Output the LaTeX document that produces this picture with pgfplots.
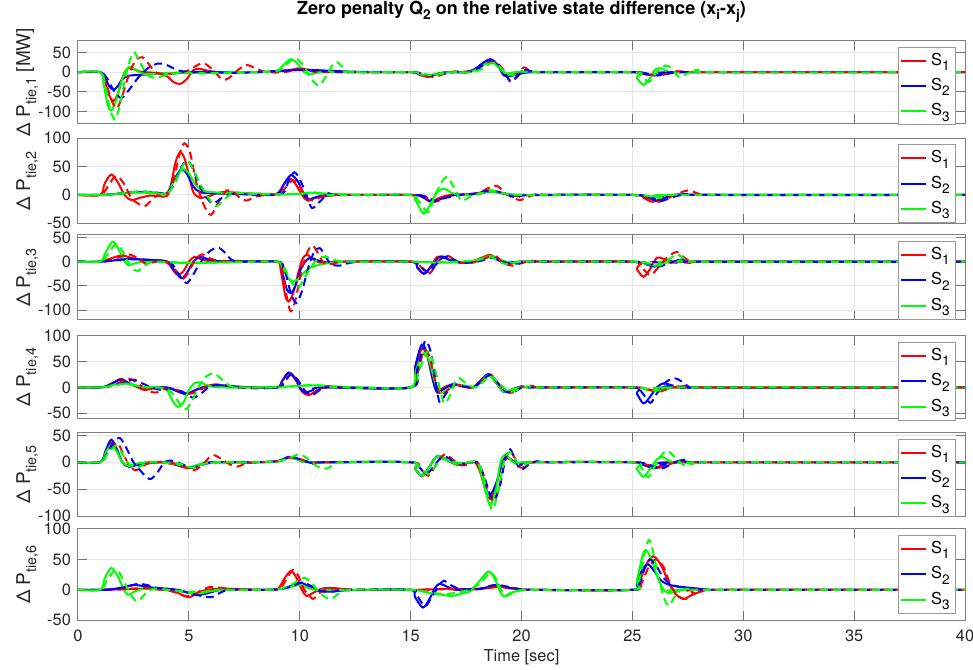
\documentclass[border=0pt]{standalone}
\usepackage{fontspec}
\setmainfont{TeX Gyre Heros}
\usepackage{pgfplots}
\pgfplotsset{compat=1.18}
\newcommand{\lsub}[1]{\raisebox{-3pt}{\fontsize{7.2}{8}\selectfont #1}}
\newcommand{\gsub}[1]{\raisebox{-2.6pt}{\fontsize{6.8}{8}\selectfont #1}}
\pgfplotsset{
  legend image code/.code={\draw[#1] (0pt,0pt) -- (12.5pt,0pt);},
  panel/.style={
    anchor=south west, scale only axis, width=443.5pt,
    xmin=0, xmax=40, xtick={0,5,...,40},
    ytick={-100,-50,0,50,100},
    grid=major, major grid style={black!10, line width=0.5pt},
    axis line style={black!50, line width=0.5pt},
    major tick style={black!55, line width=0.5pt}, major tick length=4.5pt, tick align=inside,
    tick label style={font=\fontsize{8.2}{9}\selectfont, text=black!85},
    xticklabel style={yshift=-1.5pt},
    /pgf/number format/assume math mode=true,
    xticklabels={},
    every axis y label/.style={at={(axis description cs:-0.054,0.5)}, rotate=90, anchor=base, font=\fontsize{9.5}{10}\selectfont, text=black!85},
    legend style={at={(1,1)}, anchor=north east, xshift=-4.5pt, yshift=-3pt, draw=black!40, fill=white,
      font=\fontsize{8.2}{9}\selectfont, inner sep=1pt, row sep=1pt, cells={anchor=west}},
  },
  sol/.style={line width=1pt, smooth, no markers},
  dsh/.style={line width=1pt, smooth, no markers, dash pattern=on 4pt off 2.5pt},
}
\begin{document}
\begin{tikzpicture}
\useasboundingbox (0,0) rectangle (486.5pt,334.5pt);

% ---- panel 1
\begin{axis}[panel, at={(39pt,272.85pt)}, height=41.3pt, ymin=-130, ymax=80,
  ylabel={Δ P\lsub{tie,1} [MW]},
  title={Zero penalty Q\gsub{2} on the relative state difference (x\gsub{i}-x\gsub{j})},
  title style={at={(0.5,1)}, anchor=base, yshift=7.3pt, font=\fontsize{9}{10}\selectfont\bfseries}]
\addplot[sol, red] coordinates {(0,0)(1,0)(1.2,-20)(1.4,-58)(1.6,-73)(1.8,-55)(2.0,-15)(2.2,8)(2.4,10)(2.7,3)(3.0,0)(3.5,-2)(4.0,-10)(4.3,-25)(4.6,-30)(4.9,-18)(5.2,5)(5.5,8)(5.9,3)(6.5,0)(7.5,0)(8.5,1)(9.5,5)(10.0,10)(10.5,5)(11,2)(12,0)(15,0)(15.4,-7)(15.8,-12)(16.2,-5)(16.6,0)(17.2,0)(17.8,5)(18.2,20)(18.6,30)(19.0,12)(19.3,-8)(19.7,-5)(20.2,2)(21,0)(25,0)(25.5,-5)(26.0,-8)(26.6,-3)(27.2,1)(28,0)(40,0)};
\addplot[sol, blue] coordinates {(0,0)(1,0)(1.2,-12)(1.4,-35)(1.6,-45)(1.8,-35)(2.0,-18)(2.3,-9)(2.8,-7)(3.5,-4)(4.5,-2)(5.5,0)(8,0)(9,2)(10,6)(10.8,5)(12,2)(13.5,0)(15,0)(15.4,-5)(15.8,-9)(16.2,-4)(16.7,0)(17.5,0)(17.9,8)(18.3,25)(18.6,33)(18.9,20)(19.2,-8)(19.5,-10)(20,-3)(20.8,0)(25,0)(25.5,-4)(26.0,-8)(26.5,-4)(27.2,0)(40,0)};
\addplot[sol, green] coordinates {(0,0)(1,0)(1.15,-30)(1.35,-85)(1.5,-97)(1.7,-75)(1.95,-25)(2.2,8)(2.4,13)(2.7,2)(3.0,-5)(3.5,-4)(4.0,-2)(5,-1)(6,-2)(7,0)(8.5,0)(9.0,5)(9.3,20)(9.6,33)(9.9,22)(10.2,0)(10.5,-5)(11,0)(12,0)(15,0)(15.4,-5)(15.8,-8)(16.3,-3)(16.8,0)(17.6,0)(18.0,8)(18.4,22)(18.7,25)(19.0,10)(19.3,-3)(19.7,0)(20.3,2)(21,0)(25,0)(25.2,-15)(25.5,-32)(25.8,-15)(26.0,5)(26.25,10)(26.6,2)(27.0,-2)(27.8,0)(40,0)};
\addplot[dsh, red, forget plot] coordinates {(0,0)(1,0)(1.2,-15)(1.5,-70)(1.75,-92)(2.0,-60)(2.3,-5)(2.6,30)(2.9,38)(3.2,20)(3.5,0)(3.9,-5)(4.4,-3)(5.0,5)(5.6,23)(6.0,10)(6.5,-18)(6.8,-15)(7.2,5)(7.6,18)(8.0,10)(8.5,0)(9.3,0)(10,8)(10.5,4)(11,0)(15,0)(15.5,-5)(16.0,-12)(16.5,-5)(17,2)(17.5,0)(18,8)(18.4,22)(18.8,28)(19.2,5)(19.5,-25)(19.8,-10)(20.1,12)(20.4,3)(21,0)(25,0)(25.7,-5)(26.3,-8)(26.9,2)(27.5,1)(28.5,0)(40,0)};
\addplot[dsh, blue, forget plot] coordinates {(0,0)(1,0)(1.3,-15)(1.6,-45)(1.95,-66)(2.3,-45)(2.7,-15)(3.1,8)(3.6,22)(4.0,18)(4.5,5)(5.0,0)(6,0)(7,-2)(8,0)(9,3)(10,5)(11,3)(12.5,0)(15,0)(15.5,-4)(16.0,-9)(16.5,-3)(17,0)(17.6,0)(18.1,12)(18.5,30)(18.8,28)(19.2,0)(19.5,-22)(19.8,-12)(20.1,5)(20.5,2)(21,0)(25,0)(25.6,-3)(26.2,-8)(26.8,-2)(27.5,0)(40,0)};
\addplot[dsh, green, forget plot] coordinates {(0,0)(1,0)(1.2,-25)(1.45,-95)(1.67,-120)(1.9,-80)(2.15,-10)(2.4,40)(2.55,50)(2.8,25)(3.1,-5)(3.5,-15)(3.9,-8)(4.5,-3)(5.5,-3)(6.5,-2)(8,0)(9.0,3)(9.4,20)(9.8,35)(10.2,15)(10.5,-15)(10.85,-34)(11.2,-10)(11.5,20)(11.7,25)(12.0,10)(12.4,0)(15,0)(15.5,-4)(16.0,-8)(16.5,-3)(17,0)(17.8,0)(18.2,8)(18.6,22)(18.9,20)(19.3,-3)(19.6,-8)(20.0,3)(20.5,0)(25,0)(25.4,-8)(25.75,-25)(26.1,0)(26.5,17)(26.8,8)(27.1,-12)(27.5,-3)(28.0,6)(28.5,0)(40,0)};
\legend{S\gsub{1},S\gsub{2},S\gsub{3}}
\end{axis}

% ---- panel 2
\begin{axis}[panel, at={(39pt,222.85pt)}, height=42.5pt, ymin=-50, ymax=100,
  ylabel={Δ P\lsub{tie,2}}]
\addplot[sol, red] coordinates {(0,0)(1,0)(1.2,20)(1.5,36)(1.8,22)(2.1,0)(2.4,-9)(2.8,-5)(3.3,-1)(4.0,-2)(4.2,20)(4.4,58)(4.6,75)(4.8,65)(5.0,35)(5.2,5)(5.5,-5)(5.9,-2)(6.5,5)(7.5,3)(8.5,2)(9.0,3)(9.3,20)(9.55,29)(9.8,20)(10.1,0)(10.35,-10)(10.7,-5)(11.2,-2)(12,0)(15,0)(15.5,-3)(15.9,-12)(16.3,-5)(16.8,0)(17.5,0)(18.0,3)(18.6,8)(19.2,2)(19.8,-2)(20.5,0)(25,0)(25.5,-5)(25.9,-12)(26.4,-5)(27,0)(40,0)};
\addplot[sol, blue] coordinates {(0,0)(1,0)(1.5,1)(2.0,3)(2.5,5)(3.0,5)(3.5,4)(4.0,3)(4.3,25)(4.65,45)(4.9,38)(5.2,15)(5.5,5)(6.0,3)(7,2)(8,1)(9.0,2)(9.3,20)(9.6,35)(9.9,25)(10.2,0)(10.4,-8)(10.8,-3)(11.5,0)(15,0)(15.5,-3)(16.0,-12)(16.5,-5)(17,0)(18,2)(18.6,6)(19.2,3)(20,0)(25,0)(25.6,-4)(26.1,-10)(26.6,-3)(27.2,1)(28,0)(40,0)};
\addplot[sol, green] coordinates {(0,0)(1,0)(1.5,1)(2.0,2)(2.5,4)(3.0,4)(3.5,3)(4.0,2)(4.3,22)(4.7,45)(5.0,38)(5.3,18)(5.6,8)(6.0,5)(7,3)(8,2)(9,1)(10,2)(10.5,4)(11,3)(12,1)(13,0)(15,0)(15.2,-8)(15.6,-33)(15.9,-15)(16.2,5)(16.5,11)(16.9,3)(17.5,0)(18,2)(18.5,6)(19.2,3)(20,0)(25,0)(25.6,-2)(26.2,-4)(27,0)(40,0)};
\addplot[dsh, red, forget plot] coordinates {(0,0)(1,0)(1.3,12)(1.6,30)(1.8,33)(2.1,18)(2.4,-5)(2.7,-15)(3.0,-20)(3.3,-10)(3.6,0)(4.0,2)(4.3,25)(4.6,75)(4.8,91)(5.05,75)(5.35,20)(5.7,-20)(6.0,-35)(6.3,-15)(6.7,8)(7.0,5)(7.3,-5)(7.6,-10)(8.0,-3)(8.5,0)(9.1,2)(9.4,15)(9.7,26)(10.0,15)(10.3,-5)(10.6,-10)(11.0,-3)(11.5,0)(15,0)(15.6,-2)(16.1,-12)(16.6,-4)(17.2,0)(18.0,3)(18.5,12)(18.9,16)(19.3,2)(19.9,-9)(20.3,-3)(20.8,2)(21.3,0)(25,0)(25.6,-3)(26.2,-12)(26.8,-2)(27.5,8)(28,2)(28.5,0)(40,0)};
\addplot[dsh, blue, forget plot] coordinates {(0,0)(1,0)(1.5,1)(2.2,4)(2.8,6)(3.4,5)(4.0,3)(4.35,20)(4.7,52)(4.95,60)(5.2,45)(5.5,15)(5.8,-5)(6.1,-15)(6.5,-5)(7.0,2)(8,0)(9.2,2)(9.5,25)(9.75,40)(10.0,28)(10.3,0)(10.55,-23)(10.9,-12)(11.3,3)(11.7,0)(15,0)(15.6,-2)(16.1,-10)(16.6,-5)(17.2,0)(18,3)(18.6,8)(19.2,3)(19.8,-5)(20.4,0)(25,0)(25.7,-3)(26.3,-10)(26.9,-3)(27.5,2)(28.2,0)(40,0)};
\addplot[dsh, green, forget plot] coordinates {(0,0)(1,0)(1.5,1)(2.2,4)(2.8,6)(3.4,4)(4.0,2)(4.35,20)(4.7,50)(4.95,60)(5.2,45)(5.5,20)(5.8,0)(6.2,-20)(6.6,-8)(7.0,4)(7.5,3)(8.5,1)(10,2)(10.6,5)(11.2,0)(12,0)(15,0)(15.3,-8)(15.8,-30)(16.1,0)(16.5,28)(16.7,30)(17.0,10)(17.3,-10)(17.7,-3)(18.2,3)(18.7,8)(19.3,2)(20,0)(25,0)(25.7,-2)(26.3,-5)(27,0)(40,0)};
\legend{S\gsub{1},S\gsub{2},S\gsub{3}}
\end{axis}

% ---- panel 3
\begin{axis}[panel, at={(39pt,174.5pt)}, height=42.5pt, ymin=-120, ymax=55,
  ylabel={Δ P\lsub{tie,3}}]
\addplot[sol, red] coordinates {(0,0)(1,0)(1.3,4)(1.7,10)(2.0,13)(2.4,8)(2.8,5)(3.3,3)(3.8,1)(4.1,-5)(4.3,-18)(4.5,-27)(4.75,-20)(5.0,0)(5.25,10)(5.5,6)(6.0,1)(7,2)(8,0)(9.0,0)(9.15,-20)(9.35,-70)(9.5,-82)(9.7,-65)(9.95,-20)(10.15,8)(10.35,14)(10.6,5)(11.0,-3)(11.5,-1)(12.5,0)(15,0)(15.3,-12)(15.6,-24)(15.9,-10)(16.2,10)(16.5,8)(17,0)(17.6,-2)(18.2,8)(18.6,14)(19.0,2)(19.4,-5)(19.9,0)(20.5,0)(25,0)(25.2,-15)(25.5,-31)(25.8,-15)(26.1,8)(26.4,6)(27,-2)(27.5,0)(40,0)};
\addplot[sol, blue] coordinates {(0,0)(1,0)(1.5,2)(2.0,5)(2.5,5)(3.0,4)(3.5,3)(4.0,1)(4.2,-8)(4.45,-25)(4.7,-34)(4.95,-20)(5.2,0)(5.5,10)(5.8,6)(6.3,1)(7,0)(9.0,0)(9.2,-20)(9.4,-55)(9.6,-65)(9.8,-50)(10.05,-15)(10.3,3)(10.5,8)(10.8,3)(11.3,-2)(12,0)(15,0)(15.3,-12)(15.6,-25)(15.9,-12)(16.2,5)(16.4,11)(16.8,3)(17.3,-2)(18,2)(18.6,10)(19.1,0)(19.5,-3)(20,0)(25,0)(25.6,-5)(26.0,-10)(26.4,-3)(27,0)(40,0)};
\addplot[sol, green] coordinates {(0,0)(1,0)(1.2,15)(1.55,41)(1.8,28)(2.05,5)(2.25,-7)(2.6,-3)(3.0,0)(4,-1)(5,-3)(6,-2)(7,-1)(8,0)(9.0,0)(9.2,-10)(9.45,-32)(9.7,-41)(9.95,-35)(10.2,-22)(10.5,-12)(11.0,-5)(11.5,-2)(12.5,0)(15,0)(15.6,-1)(16.5,-2)(17.5,0)(18.2,6)(18.6,12)(19.1,3)(19.6,-2)(20.2,0)(25,0)(25.6,-4)(26.0,-8)(26.5,-3)(27.2,0)(40,0)};
\addplot[dsh, red, forget plot] coordinates {(0,0)(1,0)(1.4,3)(1.9,10)(2.3,15)(2.7,7)(3.1,-5)(3.5,0)(4.0,0)(4.3,-10)(4.5,-25)(4.75,-35)(5.0,-20)(5.3,5)(5.6,15)(5.9,8)(6.3,2)(7,0)(9.0,0)(9.2,-15)(9.45,-80)(9.6,-102)(9.8,-80)(10.1,-15)(10.4,25)(10.6,33)(10.85,15)(11.1,-3)(11.5,-5)(12,0)(15,0)(15.4,-8)(15.8,-25)(16.1,-10)(16.4,8)(16.7,12)(17.1,0)(17.7,-3)(18.3,6)(18.8,12)(19.2,-3)(19.6,-8)(20.0,-3)(20.5,2)(21,0)(25,0)(25.4,-10)(25.8,-28)(26.2,-10)(26.6,10)(27.0,20)(27.3,10)(27.7,-2)(28.2,0)(40,0)};
\addplot[dsh, blue, forget plot] coordinates {(0,0)(1,0)(1.5,2)(2.2,5)(2.8,5)(3.4,3)(4.0,1)(4.3,-8)(4.6,-30)(4.9,-44)(5.15,-30)(5.5,-3)(5.9,20)(6.3,29)(6.6,20)(6.9,5)(7.3,0)(9.0,0)(9.3,-15)(9.6,-65)(9.85,-85)(10.1,-60)(10.4,-10)(10.65,20)(10.9,28)(11.15,12)(11.4,-5)(11.8,-8)(12.3,-2)(13,0)(15,0)(15.4,-8)(15.8,-22)(16.1,-8)(16.5,10)(16.8,8)(17.3,-2)(18,0)(18.7,8)(19.3,-2)(19.8,-4)(20.5,0)(25,0)(25.7,-4)(26.2,-10)(26.7,-2)(27.3,5)(27.9,0)(40,0)};
\addplot[dsh, green, forget plot] coordinates {(0,0)(1,0)(1.3,12)(1.6,32)(1.8,35)(2.1,15)(2.4,-12)(2.7,-19)(3.0,-8)(3.4,0)(4,-1)(5,-2)(6,-2)(8,0)(9.0,0)(9.3,-12)(9.6,-40)(9.9,-55)(10.2,-35)(10.6,-5)(10.9,8)(11.2,10)(11.6,3)(12.3,0)(15,0)(16,-1)(17,0)(18,3)(18.6,10)(19.2,-4)(19.7,-2)(20.3,0)(25,0)(25.7,-3)(26.2,-8)(26.6,3)(27.0,15)(27.4,5)(28,0)(40,0)};
\legend{S\gsub{1},S\gsub{2},S\gsub{3}}
\end{axis}

% ---- panel 4
\begin{axis}[panel, at={(39pt,125.35pt)}, height=41.15pt, ymin=-60, ymax=100,
  ylabel={Δ P\lsub{tie,4}}]
\addplot[sol, red] coordinates {(0,0)(1,0)(1.3,3)(1.7,12)(1.95,17)(2.3,8)(2.7,0)(3.0,-5)(3.4,-2)(4.0,0)(4.4,-5)(4.9,-12)(5.3,-5)(5.8,3)(6.2,5)(7,2)(8,0)(9.0,0)(9.2,12)(9.5,28)(9.8,15)(10.1,-8)(10.4,-15)(10.8,-5)(11.3,2)(12,0)(15,0)(15.2,35)(15.5,75)(15.75,60)(16.0,15)(16.2,-8)(16.5,0)(16.9,6)(17.3,2)(17.8,0)(18.2,15)(18.5,25)(18.8,12)(19.2,-8)(19.5,-5)(20.0,2)(20.6,0)(25,0)(25.5,-2)(26.0,-6)(26.6,-2)(27.2,0)(40,0)};
\addplot[sol, blue] coordinates {(0,0)(1,0)(1.3,3)(1.7,11)(1.95,15)(2.3,8)(2.7,2)(3.2,0)(4.0,0)(4.5,-8)(4.9,-13)(5.3,-5)(5.8,2)(6.4,4)(7,2)(8,0)(9.0,0)(9.2,12)(9.5,29)(9.8,18)(10.05,-3)(10.25,-10)(10.6,-5)(11,0)(15,0)(15.2,40)(15.5,83)(15.75,65)(16.0,15)(16.2,-10)(16.5,-3)(16.9,6)(17.3,3)(17.8,0)(18.2,15)(18.5,26)(18.8,12)(19.2,-9)(19.5,-6)(20.0,2)(20.6,0)(25,0)(25.2,-12)(25.5,-31)(25.8,-18)(26.1,0)(26.4,8)(26.8,4)(27.4,0)(40,0)};
\addplot[sol, green] coordinates {(0,0)(1,0)(1.4,3)(1.8,7)(2.1,8)(2.5,4)(3.0,1)(3.6,0)(4.0,-5)(4.25,-25)(4.5,-38)(4.75,-30)(5.0,-5)(5.25,8)(5.5,10)(5.9,3)(6.5,0)(8,0)(9,1)(10,3)(10.8,4)(12,1)(13,0)(15,0)(15.25,35)(15.6,67)(15.85,50)(16.1,10)(16.35,-10)(16.7,-3)(17.1,5)(17.5,3)(17.9,0)(18.2,12)(18.5,24)(18.8,12)(19.2,-8)(19.5,-5)(20,1)(20.6,0)(25,0)(25.6,-4)(26.1,-8)(26.6,-3)(27.2,0)(40,0)};
\addplot[dsh, red, forget plot] coordinates {(0,0)(1,0)(1.4,2)(1.9,10)(2.3,17)(2.7,8)(3.1,-5)(3.5,-10)(3.9,-3)(4.3,-3)(4.7,-8)(5.1,-12)(5.5,-5)(6.0,5)(6.5,5)(7.2,0)(8,-2)(9.0,0)(9.3,12)(9.6,26)(9.9,15)(10.2,-5)(10.5,-15)(10.8,-8)(11.2,2)(12,0)(15,0)(15.3,25)(15.6,72)(15.85,60)(16.1,15)(16.35,-15)(16.6,-8)(17.0,5)(17.4,3)(17.8,0)(18.2,12)(18.6,25)(18.9,10)(19.3,-8)(19.6,-10)(20.0,0)(20.5,3)(21,0)(25,0)(25.6,-3)(26.2,-8)(26.8,0)(27.4,3)(28,0)(40,0)};
\addplot[dsh, blue, forget plot] coordinates {(0,0)(1,0)(1.4,2)(2.0,8)(2.5,15)(2.9,8)(3.3,0)(3.8,-5)(4.2,-3)(4.8,-10)(5.2,-20)(5.6,-10)(6.0,3)(6.6,4)(7.3,0)(9.0,0)(9.3,10)(9.6,25)(9.9,15)(10.2,-5)(10.55,-15)(10.9,-5)(11.3,0)(15,0)(15.3,35)(15.65,90)(15.9,70)(16.1,20)(16.3,-28)(16.55,-15)(16.9,5)(17.3,3)(17.8,0)(18.2,12)(18.6,25)(18.9,10)(19.3,-8)(19.7,-8)(20.1,2)(20.6,0)(25,0)(25.4,-8)(25.8,-30)(26.1,-12)(26.5,10)(26.9,18)(27.2,12)(27.6,0)(28,0)(40,0)};
\addplot[dsh, green, forget plot] coordinates {(0,0)(1,0)(1.4,2)(1.9,6)(2.3,8)(2.7,3)(3.2,0)(4.0,-2)(4.4,-20)(4.7,-38)(4.9,-42)(5.15,-25)(5.5,5)(5.8,22)(6.15,27)(6.5,15)(6.9,2)(7.5,0)(9,0)(10,3)(10.6,5)(11.2,2)(12,0)(15,0)(15.35,30)(15.75,70)(16.0,50)(16.25,10)(16.5,-30)(16.75,-18)(17.0,10)(17.2,18)(17.5,8)(17.9,0)(18.3,12)(18.6,22)(19.0,8)(19.4,-8)(19.8,-5)(20.3,2)(21,0)(25,0)(25.7,-3)(26.3,-6)(27,0)(40,0)};
\legend{S\gsub{1},S\gsub{2},S\gsub{3}}
\end{axis}

% ---- panel 5
\begin{axis}[panel, at={(39pt,76.5pt)}, height=41.65pt, ymin=-100, ymax=55,
  ylabel={Δ P\lsub{tie,5}}]
\addplot[sol, red] coordinates {(0,0)(1,0)(1.25,20)(1.5,37)(1.75,22)(2.0,0)(2.3,-8)(2.7,-3)(3.2,0)(3.8,0)(4.4,-5)(5.0,-11)(5.5,-5)(6.0,0)(7,0)(8,0)(9.0,2)(9.5,8)(10.0,4)(10.5,0)(11,0)(15,0)(15.2,-12)(15.5,-26)(15.8,-12)(16.1,8)(16.3,12)(16.7,3)(17.1,-5)(17.5,-2)(17.9,0)(18.15,-20)(18.4,-55)(18.6,-68)(18.85,-45)(19.1,-5)(19.3,10)(19.6,3)(19.9,-5)(20.3,0)(25,0)(25.5,-5)(26.0,-10)(26.5,-4)(27.2,0)(40,0)};
\addplot[sol, blue] coordinates {(0,0)(1,0)(1.25,22)(1.5,42)(1.75,25)(2.0,0)(2.3,-8)(2.7,-5)(3.2,-2)(4.0,0)(4.5,-5)(5.0,-10)(5.5,-4)(6.0,0)(8,0)(9.0,2)(9.5,10)(10.0,5)(10.5,0)(15,0)(15.2,-12)(15.5,-25)(15.8,-12)(16.1,8)(16.3,11)(16.7,3)(17.1,-4)(17.5,-1)(18.0,0)(18.2,-20)(18.4,-50)(18.6,-60)(18.85,-40)(19.1,-5)(19.3,8)(19.6,3)(20.0,-5)(20.4,0)(25,0)(25.5,-5)(26.0,-11)(26.5,-5)(27.2,0)(40,0)};
\addplot[sol, green] coordinates {(0,0)(1,0)(1.25,18)(1.5,32)(1.75,20)(2.0,0)(2.3,-7)(2.7,-2)(3.2,0)(4,-1)(4.6,-5)(5.0,-9)(5.5,-4)(6.0,-1)(8,0)(9.0,1)(9.5,8)(10.0,4)(10.5,0)(15,0)(15.2,-12)(15.5,-25)(15.8,-12)(16.1,8)(16.3,12)(16.7,3)(17.1,-4)(17.5,-1)(18.0,0)(18.2,-25)(18.45,-65)(18.6,-80)(18.85,-50)(19.05,0)(19.25,14)(19.5,5)(19.8,-4)(20.2,0)(25,0)(25.2,-12)(25.5,-27)(25.8,-12)(26.1,5)(26.35,10)(26.7,2)(27.2,-1)(27.8,0)(40,0)};
\addplot[dsh, red, forget plot] coordinates {(0,0)(1,0)(1.3,15)(1.6,32)(1.8,35)(2.05,15)(2.3,-5)(2.6,-15)(2.9,-8)(3.3,0)(4,0)(4.6,-5)(5.2,-15)(5.6,-5)(5.9,8)(6.15,13)(6.5,5)(6.9,-5)(7.2,-8)(7.6,-2)(8.2,0)(9.0,2)(9.6,9)(10.1,5)(10.6,-3)(11,0)(15,0)(15.4,-10)(15.8,-25)(16.1,-8)(16.4,10)(16.6,15)(16.9,5)(17.3,-6)(17.7,-2)(18.0,0)(18.3,-25)(18.55,-60)(18.75,-72)(19.0,-45)(19.25,0)(19.45,20)(19.7,8)(19.95,-10)(20.3,-5)(20.7,0)(25,0)(25.6,-4)(26.2,-10)(26.8,-2)(27.5,1)(28,0)(40,0)};
\addplot[dsh, blue, forget plot] coordinates {(0,0)(1,0)(1.35,20)(1.65,40)(1.9,45)(2.2,25)(2.5,0)(2.8,-15)(3.1,-28)(3.3,-31)(3.6,-18)(3.9,0)(4.2,3)(4.6,-2)(5.1,-10)(5.6,-5)(6.2,0)(8,0)(9.0,2)(9.6,10)(10.1,4)(10.6,-2)(11,0)(15,0)(15.4,-10)(15.7,-22)(16.0,-10)(16.35,8)(16.6,10)(17.0,0)(17.4,-3)(18.0,0)(18.3,-25)(18.6,-62)(18.8,-70)(19.05,-40)(19.25,5)(19.45,25)(19.65,12)(19.95,-14)(20.3,-5)(20.7,2)(21.2,0)(25,0)(25.7,-4)(26.3,-12)(26.9,0)(27.4,5)(28,0)(40,0)};
\addplot[dsh, green, forget plot] coordinates {(0,0)(1,0)(1.3,14)(1.6,28)(1.8,30)(2.05,12)(2.35,-5)(2.7,-10)(3.0,-3)(3.4,0)(4.5,-2)(5.1,-10)(5.6,-4)(6.2,0)(8,0)(9.0,2)(9.6,9)(10.0,15)(10.4,5)(10.8,-8)(11.2,-12)(11.6,-3)(12,0)(15,0)(15.4,-10)(15.8,-22)(16.1,-8)(16.4,5)(16.8,3)(17.3,-2)(18,0)(18.3,-30)(18.55,-75)(18.7,-88)(18.95,-55)(19.2,0)(19.4,18)(19.6,15)(19.9,-5)(20.3,-2)(20.8,0)(25,0)(25.4,-10)(25.7,-28)(26.0,-8)(26.35,15)(26.6,21)(26.9,10)(27.3,-5)(27.7,-3)(28.2,0)(40,0)};
\legend{S\gsub{1},S\gsub{2},S\gsub{3}}
\end{axis}

% ---- panel 6
\begin{axis}[panel, at={(39pt,24.35pt)}, height=45.65pt, ymin=-50, ymax=100,
  ylabel={Δ P\lsub{tie,6}},
  xticklabels={0,5,10,15,20,25,30,35,40},
  xlabel={Time [sec]},
  every axis x label/.style={at={(axis description cs:0.5,0)}, anchor=base, yshift=-20.7pt, font=\fontsize{8.2}{9}\selectfont, text=black!85}]
\addplot[sol, red] coordinates {(0,0)(1,0)(2,1)(3,2)(3.5,1)(4.0,0)(4.5,-5)(5.0,-12)(5.4,-5)(5.8,0)(6.5,2)(7.5,1)(8.5,0)(9.0,1)(9.3,18)(9.6,31)(9.85,20)(10.1,0)(10.3,-10)(10.6,-5)(11,2)(11.5,3)(12.5,0)(15,0)(16,1)(16.8,2)(17.5,1)(18.2,2)(19.0,5)(19.6,2)(20.5,0)(25,0)(25.3,10)(25.6,40)(25.95,55)(26.3,40)(26.6,15)(26.9,-5)(27.3,-15)(27.7,-8)(28.2,-2)(29,0)(40,0)};
\addplot[sol, blue] coordinates {(0,0)(1,0)(1.5,1)(2.0,4)(2.5,8)(3.0,6)(3.5,3)(4.0,2)(4.5,0)(5.0,-5)(5.5,-8)(6.0,-4)(6.5,0)(8,0)(9.0,1)(9.5,5)(10.0,12)(10.4,6)(10.9,-2)(11.3,-3)(12,-1)(13,0)(15,0)(15.2,-12)(15.55,-29)(15.85,-15)(16.1,3)(16.3,10)(16.6,6)(17.0,0)(17.5,1)(18.2,2)(18.8,8)(19.3,4)(19.8,2)(20.5,0)(25,0)(25.2,8)(25.4,30)(25.7,42)(26.0,30)(26.3,15)(26.7,8)(27.2,5)(28,2)(29,0)(40,0)};
\addplot[sol, green] coordinates {(0,0)(1,0)(1.2,18)(1.5,36)(1.8,22)(2.05,2)(2.25,-8)(2.6,-2)(3.0,2)(3.5,1)(4.2,0)(5.0,-5)(5.5,-6)(6.0,-2)(6.8,0)(8,0)(9.0,1)(9.6,5)(10.0,8)(10.4,3)(10.8,0)(12,0)(15,0)(15.8,-5)(16.4,-8)(16.9,-10)(17.3,-6)(17.7,-2)(18.0,10)(18.5,30)(18.8,18)(19.0,0)(19.2,-11)(19.5,-5)(20,-1)(20.8,0)(25,0)(25.2,15)(25.45,55)(25.6,65)(25.8,55)(26.1,25)(26.35,3)(26.6,-5)(27.0,-3)(27.6,0)(40,0)};
\addplot[dsh, red, forget plot] coordinates {(0,0)(1,0)(2,1)(3,3)(3.6,1)(4.3,-3)(4.8,-10)(5.2,-8)(5.6,0)(6.0,5)(6.5,3)(7.5,0)(8.5,0)(9.1,2)(9.4,18)(9.7,33)(9.95,22)(10.2,0)(10.45,-10)(10.6,-15)(10.9,-5)(11.3,2)(12,1)(13,0)(15,0)(16.5,1)(17.5,1)(18.2,2)(19.0,5)(19.6,2)(20.5,0)(25,0)(25.4,10)(25.7,35)(26.05,50)(26.4,38)(26.7,10)(27.0,-8)(27.4,-15)(27.8,-6)(28.3,0)(40,0)};
\addplot[dsh, blue, forget plot] coordinates {(0,0)(1,0)(1.6,1)(2.2,5)(2.7,10)(3.1,8)(3.6,3)(4.2,1)(4.7,-2)(5.3,-8)(6.0,-12)(6.4,-5)(6.8,0)(8,0)(9.0,1)(9.6,5)(10.1,12)(10.6,5)(11.0,-2)(11.5,-3)(12.2,0)(15,0)(15.3,-10)(15.65,-27)(15.95,-12)(16.3,8)(16.5,15)(16.8,8)(17.2,2)(18.0,1)(18.8,8)(19.4,5)(20.0,1)(21,0)(25,0)(25.3,8)(25.55,35)(25.8,50)(26.1,38)(26.4,20)(26.8,8)(27.4,3)(28.2,1)(29,0)(40,0)};
\addplot[dsh, green, forget plot] coordinates {(0,0)(1,0)(1.3,15)(1.6,30)(1.8,32)(2.1,12)(2.45,-12)(2.7,-19)(3.0,-8)(3.4,2)(4,0)(5,-3)(5.6,-4)(6.2,0)(8,0)(9.0,1)(9.6,8)(10.2,20)(10.6,8)(11.0,-8)(11.4,-15)(11.8,-5)(12.3,0)(15,0)(15.8,-4)(16.5,-7)(17.0,-5)(17.6,0)(18.1,10)(18.6,28)(18.9,15)(19.1,-2)(19.3,-10)(19.7,-4)(20.3,0)(25,0)(25.3,15)(25.55,60)(25.75,82)(25.95,60)(26.2,15)(26.45,-15)(26.65,-26)(26.9,-12)(27.2,0)(27.6,2)(28.2,0)(40,0)};
\legend{S\gsub{1},S\gsub{2},S\gsub{3}}
\end{axis}
\end{tikzpicture}
\end{document}
